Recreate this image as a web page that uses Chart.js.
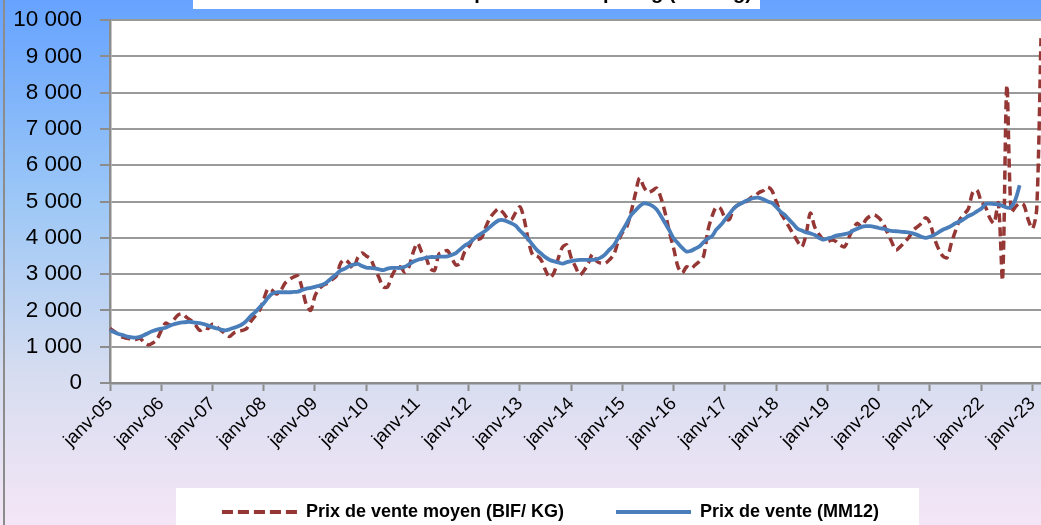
<!DOCTYPE html>
<html>
<head>
<meta charset="utf-8">
<script src="https://cdn.jsdelivr.net/npm/chart.js@4/dist/chart.umd.min.js"></script>
<style>
  html, body { margin: 0; padding: 0; background: #fff; }
</style>
</head>
<body>
<canvas id="myChart" width="1041" height="525"></canvas>
<script>
// Categories: one point per month, janv-05 .. mars-23
const firstYear = 2005;
const monthNames = ["janv", "févr", "mars", "avr", "mai", "juin", "juil", "août", "sept", "oct", "nov", "déc"];
const titleText = "Evolution du prix de vente par kg (BIF/ Kg)";

// Prix de vente moyen (BIF/ KG), monthly
const prixMoyen = [
  1500, 1420, 1330, 1260, 1230, 1210, 1200, 1230, 1120, 1050, 1100, 1200, // 2005
  1450, 1650, 1600, 1750, 1880, 1900, 1800, 1720, 1600, 1450, 1520, 1500, // 2006
  1620, 1550, 1450, 1350, 1280, 1380, 1420, 1450, 1500, 1700, 1850, 2000, // 2007
  2300, 2600, 2550, 2450, 2550, 2750, 2850, 2920, 2950, 2600, 2150, 2000, // 2008
  2400, 2600, 2700, 2750, 2850, 2950, 3300, 3400, 3300, 3150, 3450, 3580, // 2009
  3500, 3420, 3150, 2900, 2650, 2650, 2950, 3150, 3200, 3050, 3200, 3600, // 2010
  3850, 3600, 3450, 3150, 3100, 3550, 3600, 3650, 3450, 3250, 3300, 3600, // 2011
  3750, 3950, 3950, 4000, 4300, 4550, 4700, 4800, 4700, 4550, 4500, 4700, // 2012
  4850, 4500, 3900, 3520, 3500, 3380, 3100, 2900, 3050, 3450, 3750, 3800, // 2013
  3450, 3200, 2980, 3100, 3300, 3550, 3350, 3300, 3300, 3400, 3550, 3900, // 2014
  4150, 4300, 4700, 5200, 5650, 5400, 5250, 5300, 5370, 5100, 4680, 4150, // 2015
  3700, 3200, 3030, 3200, 3150, 3250, 3350, 3500, 4200, 4600, 4850, 4800, // 2016
  4550, 4500, 4800, 4900, 4960, 5000, 5100, 5150, 5250, 5300, 5400, 5300, // 2017
  5000, 4700, 4500, 4300, 4100, 3900, 3750, 4100, 4680, 4300, 4100, 3950, // 2018
  3900, 3940, 3900, 3800, 3750, 4000, 4250, 4400, 4300, 4500, 4600, 4630, // 2019
  4550, 4400, 4150, 3900, 3660, 3750, 3880, 4000, 4200, 4300, 4400, 4550, // 2020
  4400, 4000, 3700, 3500, 3450, 3850, 4200, 4500, 4650, 4800, 5250, 5320, // 2021
  5000, 4850, 4550, 4400, 4960, 2850, 8200, 4700, 4850, 4950, 4900, 4500, // 2022
  4250, 4800, 9500                                                         // 2023
];

// Prix de vente (MM12), 12-month moving average
const prixMM12 = [
  1450, 1400, 1350, 1320, 1280, 1260, 1250, 1270, 1320, 1380, 1430, 1470, // 2005
  1500, 1520, 1580, 1620, 1650, 1670, 1680, 1680, 1660, 1650, 1620, 1580, // 2006
  1540, 1500, 1470, 1450, 1480, 1520, 1560, 1620, 1720, 1850, 1950, 2080, // 2007
  2200, 2350, 2460, 2500, 2500, 2500, 2500, 2510, 2520, 2560, 2600, 2620, // 2008
  2650, 2680, 2720, 2800, 2900, 3000, 3100, 3150, 3220, 3260, 3280, 3220, // 2009
  3180, 3170, 3160, 3130, 3110, 3150, 3170, 3170, 3170, 3200, 3270, 3340, // 2010
  3390, 3420, 3450, 3470, 3470, 3480, 3480, 3490, 3530, 3580, 3680, 3780, // 2011
  3850, 3950, 4050, 4120, 4200, 4300, 4400, 4480, 4490, 4450, 4400, 4330, // 2012
  4200, 4080, 3950, 3800, 3660, 3560, 3460, 3390, 3350, 3320, 3290, 3330, // 2013
  3360, 3380, 3390, 3390, 3390, 3390, 3410, 3460, 3550, 3680, 3800, 4000, // 2014
  4200, 4400, 4620, 4750, 4870, 4950, 4930, 4880, 4780, 4600, 4400, 4200, // 2015
  3980, 3850, 3720, 3620, 3640, 3700, 3760, 3880, 3980, 4050, 4230, 4350, // 2016
  4500, 4650, 4800, 4900, 4960, 5020, 5070, 5100, 5100, 5060, 5000, 4960, // 2017
  4850, 4720, 4630, 4500, 4380, 4250, 4200, 4150, 4120, 4080, 4000, 3950, // 2018
  3980, 4010, 4060, 4080, 4100, 4130, 4200, 4250, 4300, 4320, 4320, 4300, // 2019
  4270, 4250, 4220, 4190, 4180, 4170, 4160, 4150, 4120, 4080, 4030, 4000, // 2020
  4030, 4080, 4150, 4220, 4270, 4330, 4400, 4450, 4520, 4600, 4650, 4730, // 2021
  4800, 4930, 4940, 4930, 4920, 4880, 4830, 4850, 5050, 5450              // 2022
];

// y axis ticks
const yMin = 0;
const yMax = 10000;
const yStep = 1000;

// build month labels
const labels = [];
for (let i = 0; i < prixMoyen.length; i++) {
  const y = firstYear + Math.floor(i / 12);
  labels.push(monthNames[i % 12] + "-" + String(y).slice(2));
}

const fontFamily = '"Liberation Sans", Arial, sans-serif';

// background, white plot area, title box, legend box
const decor = {
  id: "decor",
  afterLayout(chart) {
    // the legend sits a bit right of the centre in the original
    if (chart.legend) chart.legend.left += 60;
  },
  beforeDraw(chart) {
    const { ctx, width, height, chartArea: a } = chart;
    ctx.save();
    const g = ctx.createLinearGradient(0, 0, 0, height);
    g.addColorStop(0, "#66a3ff");
    g.addColorStop(0.38, "#9cc7f6");
    g.addColorStop(0.72, "#d7ddf0");
    g.addColorStop(1, "#f4e6f6");
    ctx.fillStyle = g;
    ctx.fillRect(0, 0, width, height);
    ctx.fillStyle = "#fff";
    ctx.fillRect(a.left, a.top, a.right - a.left, a.bottom - a.top);
    // title box, mostly out of the picture
    ctx.fillRect(193, 0, 567, 9);
    ctx.fillStyle = "#000";
    ctx.font = "bold 20px " + fontFamily;
    ctx.textAlign = "right";
    ctx.textBaseline = "alphabetic";
    ctx.fillText(titleText, 752, -1);
    // legend box
    const lg = chart.legend;
    if (lg && lg.legendHitBoxes && lg.legendHitBoxes.length) {
      const hb = lg.legendHitBoxes;
      const l = hb[0].left - 46;
      const r = hb[hb.length - 1].left + hb[hb.length - 1].width + 40;
      ctx.fillStyle = "#fff";
      ctx.fillRect(l, 488, r - l, height - 488);
    }
    // left border of the chart frame
    ctx.strokeStyle = "#8c8c8c";
    ctx.lineWidth = 2;
    ctx.beginPath();
    ctx.moveTo(4, 0);
    ctx.lineTo(4, height);
    ctx.stroke();
    ctx.restore();
  }
};

const ctx = document.getElementById("myChart").getContext("2d");
const data = {
  labels: labels,
  datasets: [
    {
      label: "Prix de vente (MM12)",
      data: prixMM12,
      borderColor: "#4a7ebb",
      backgroundColor: "#4a7ebb",
      borderWidth: 3.8,
      pointRadius: 0,
      tension: 0.35,
      fill: false
    },
    {
      label: "Prix de vente moyen (BIF/ KG)",
      data: prixMoyen,
      borderColor: "#953735",
      backgroundColor: "#953735",
      borderWidth: 3.5,
      borderDash: [9, 5],
      pointRadius: 0,
      tension: 0.3,
      fill: false
    }
  ]
};

const config = {
  type: "line",
  data: data,
  plugins: [decor],
  options: {
    responsive: false,
    animation: false,
    devicePixelRatio: 1,
    layout: { padding: { top: 20, left: 0, right: 0, bottom: -6 } },
    plugins: {
      tooltip: { enabled: false },
      title: { display: false },
      legend: {
        position: "bottom",
        reverse: true,
        labels: {
          usePointStyle: true,
          pointStyle: "line",
          pointStyleWidth: 75,
          boxWidth: 75,
          boxHeight: 18,
          padding: 52,
          color: "#000",
          font: { family: fontFamily, size: 18, weight: "bold" },
          generateLabels(chart) {
            const items = Chart.defaults.plugins.legend.labels.generateLabels(chart);
            items.forEach((it) => {
              const ds = chart.data.datasets[it.datasetIndex];
              it.strokeStyle = ds.borderColor;
              it.lineWidth = 4;
              it.lineDash = ds.borderDash ? [11, 5] : [];
            });
            return items;
          }
        }
      }
    },
    scales: {
      x: {
        type: "category",
        offset: false,
        afterFit(s) {
          const lh = s.chart.legend ? s.chart.legend.height : 0;
          s.height = 148 - lh;
          s.paddingRight = 0;
        },
        grid: {
          drawOnChartArea: false,
          drawTicks: true,
          tickLength: 8,
          tickWidth: 2,
          tickColor: (c) => (c.index % 12 === 0 ? "#8c8c8c" : "rgba(0,0,0,0)")
        },
        border: { display: true, color: "#8c8c8c", width: 2.5 },
        ticks: {
          autoSkip: false,
          maxRotation: 45,
          minRotation: 45,
          padding: 2,
          color: "#000",
          font: { family: fontFamily, size: 18.5 },
          callback: (v, i) => (i % 12 === 0 ? labels[i] : "")
        }
      },
      y: {
        min: yMin,
        max: yMax,
        afterFit(s) {
          s.width = 110;
          s.paddingTop = 0;
          s.paddingBottom = 0;
        },
        grid: {
          color: "#9a9a9a",
          lineWidth: 2,
          tickLength: 10,
          tickColor: "#8c8c8c"
        },
        border: { display: true, color: "#8c8c8c", width: 2.5 },
        ticks: {
          stepSize: yStep,
          padding: 18,
          color: "#000",
          font: { family: fontFamily, size: 22.5 },
          callback: (v) => String(v).replace(/\B(?=(\d{3})+(?!\d))/g, " ")
        }
      }
    }
  }
};

const myChart = new Chart(ctx, config);
</script>
</body>
</html>
